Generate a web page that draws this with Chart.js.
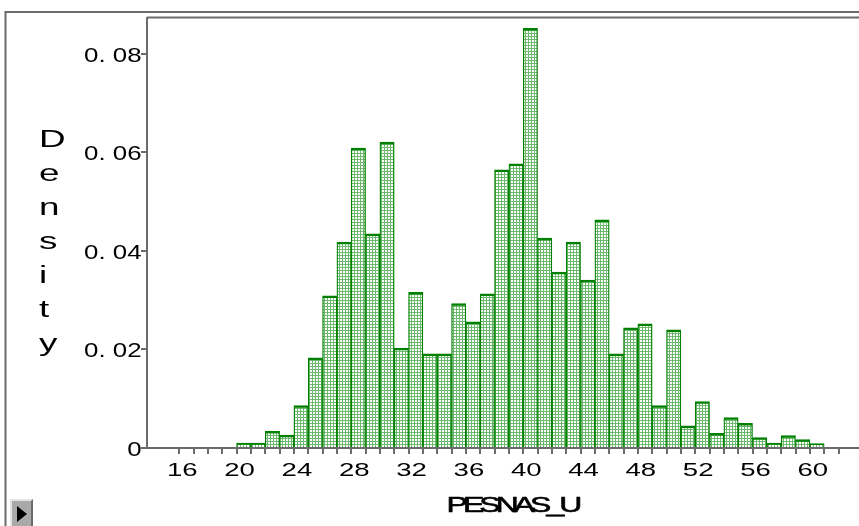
<!DOCTYPE html>
<html>
<head>
<meta charset="utf-8">
<title>PESNAS_U density histogram</title>
<script src="https://cdn.jsdelivr.net/npm/chart.js@4/dist/chart.umd.min.js"></script>
<style>
  html, body { margin: 0; padding: 0; background: #ffffff; }
  #wrap { position: relative; width: 859px; height: 526px; overflow: hidden; }
  #plot { position: absolute; left: 0; top: 0; }
  #play {
    position: absolute; left: 10px; top: 499px; width: 23px; height: 27px;
    background: #a9a9a9;
    border-top: 2px solid #e4e4e4; border-left: 2px solid #e4e4e4;
    border-right: 2px solid #6a6a6a; border-bottom: 0;
    box-sizing: border-box;
  }
  #play::after {
    content: ""; position: absolute; left: 5px; top: 5px;
    border-top: 8px solid transparent; border-bottom: 8px solid transparent;
    border-left: 10px solid #000000;
  }
</style>
</head>
<body>
<div id="wrap">
  <canvas id="plot" width="859" height="526"></canvas>
  <div id="play"></div>
</div>
<script>
// Histogram bins (width 1) of PESNAS_U and their densities
const binStart = [20, 21, 22, 23, 24, 25, 26, 27, 28, 29,
                  30, 31, 32, 33, 34, 35, 36, 37, 38, 39,
                  40, 41, 42, 43, 44, 45, 46, 47, 48, 49,
                  50, 51, 52, 53, 54, 55, 56, 57, 58, 59, 60];
const density = [0.0010, 0.0010, 0.0034, 0.0026, 0.0086, 0.0183, 0.0309, 0.0418, 0.0609, 0.0435,
                 0.0621, 0.0203, 0.0316, 0.0191, 0.0191, 0.0293, 0.0256, 0.0313, 0.0565, 0.0577,
                 0.0852, 0.0426, 0.0357, 0.0418, 0.0341, 0.0463, 0.0191, 0.0244, 0.0252, 0.0086,
                 0.0240, 0.0045, 0.0094, 0.0030, 0.0062, 0.0050, 0.0021, 0.0010, 0.0025, 0.0017, 0.0009];

// Axis ticks and labels
const xMinorTicks = [16, 17, 18, 19, 20, 21, 22, 23, 24, 25, 26, 27, 28, 29, 30, 31,
                     32, 33, 34, 35, 36, 37, 38, 39, 40, 41, 42, 43, 44, 45, 46, 47,
                     48, 49, 50, 51, 52, 53, 54, 55, 56, 57, 58, 59, 60, 61, 62];
const xLabelValues = [16, 20, 24, 28, 32, 36, 40, 44, 48, 52, 56, 60];
const xLabels = ['16', '20', '24', '28', '32', '36', '40', '44', '48', '52', '56', '60'];
const yTickValues = [0, 0.02, 0.04, 0.06, 0.08];
const yTickLabels = ['0', '0. 02', '0. 04', '0. 06', '0. 08'];
const xTitle = 'PESNAS_U';
const yTitle = 'Density';

const AXIS = '#6b6b6b';
const BAR_EDGE = '#008000';

// Fine green mesh used to fill the bars
function meshPattern() {
  const c = document.createElement('canvas');
  c.width = 3; c.height = 3;
  const g = c.getContext('2d');
  g.fillStyle = '#ffffff';
  g.fillRect(0, 0, 3, 3);
  g.fillStyle = '#6cb86c';
  g.fillRect(0, 0, 3, 1);
  g.fillRect(0, 0, 1, 3);
  return g.createPattern(c, 'repeat');
}

// Horizontally widened text, as the plot's labels appear
function wideText(ctx, text, x, y, sx, align, font, spacing, weight) {
  ctx.save();
  ctx.translate(x, y);
  ctx.scale(sx, 1);
  ctx.font = font;
  ctx.fillStyle = '#000000';
  ctx.textAlign = align;
  ctx.textBaseline = 'alphabetic';
  if (spacing !== undefined && 'letterSpacing' in ctx) ctx.letterSpacing = spacing;
  ctx.fillText(text, 0, 0);
  if (weight) {
    ctx.strokeStyle = '#000000';
    ctx.lineWidth = weight;
    ctx.strokeText(text, 0, 0);
  }
  ctx.restore();
}

const decorations = {
  id: 'decorations',
  afterDraw(chart) {
    const ctx = chart.ctx;
    const area = chart.chartArea;
    const xs = chart.scales.x;
    const ys = chart.scales.y;

    // window frame and plot top edge
    ctx.save();
    ctx.strokeStyle = AXIS;
    ctx.lineWidth = 2;
    ctx.beginPath();
    ctx.moveTo(5.5, 526);
    ctx.lineTo(5.5, 12);
    ctx.lineTo(859, 12);
    ctx.stroke();
    ctx.beginPath();
    ctx.moveTo(area.left, area.top - 0.5);
    ctx.lineTo(859, area.top - 0.5);
    ctx.stroke();
    ctx.restore();

    // x tick labels
    xLabelValues.forEach((v, i) => {
      wideText(ctx, xLabels[i], xs.getPixelForValue(v) + 3, 476, 1.45, 'center',
               '19px "Liberation Sans", Arial, sans-serif');
    });

    // y tick labels
    yTickValues.forEach((v, i) => {
      wideText(ctx, yTickLabels[i], 141.5, ys.getPixelForValue(v) + 8, 1.23, 'right',
               '21px "Liberation Sans", Arial, sans-serif');
    });

    // x axis title
    wideText(ctx, xTitle, 512, 511.5, 1.45, 'center',
             '22px "Liberation Sans", Arial, sans-serif', '-3.4px', 0.6);

    // y axis title, one letter per line
    yTitle.split('').forEach((ch, i) => {
      wideText(ctx, ch, 39, 146.7 + 34 * i, 1.6, 'left',
               '23px "Liberation Sans", Arial, sans-serif');
    });
  }
};

const ctx = document.getElementById('plot').getContext('2d');
new Chart(ctx, {
  type: 'bar',
  data: {
    datasets: [{
      label: 'Density',
      data: binStart.map((b, i) => ({ x: b + 0.5, y: density[i] })),
      backgroundColor: meshPattern(),
      borderColor: BAR_EDGE,
      borderWidth: { top: 2.5, left: 1.3, right: 1.3, bottom: 0 },
      borderSkipped: false,
      barPercentage: 1,
      categoryPercentage: 1,
      grouped: false
    }]
  },
  options: {
    responsive: false,
    animation: false,
    events: [],
    layout: { padding: { top: 18, left: 0, right: 0, bottom: 0 } },
    plugins: {
      legend: { display: false },
      tooltip: { enabled: false },
      title: { display: false }
    },
    scales: {
      x: {
        type: 'linear',
        min: 13.75,
        max: 63.43,
        offset: false,
        afterBuildTicks: (scale) => { scale.ticks = xMinorTicks.map(v => ({ value: v })); },
        afterFit: (scale) => { scale.height = 78; },
        grid: {
          offset: false,
          drawOnChartArea: false,
          drawTicks: true,
          tickLength: 6,
          color: AXIS,
          lineWidth: 2
        },
        border: { display: true, color: AXIS, width: 2 },
        ticks: { display: false }
      },
      y: {
        type: 'linear',
        min: 0,
        max: 0.0873,
        afterBuildTicks: (scale) => { scale.ticks = yTickValues.map(v => ({ value: v })); },
        afterFit: (scale) => { scale.width = 147; },
        grid: {
          drawOnChartArea: false,
          drawTicks: true,
          tickLength: 6,
          color: AXIS,
          lineWidth: 2
        },
        border: { display: true, color: AXIS, width: 2 },
        ticks: { display: false }
      }
    }
  },
  plugins: [decorations]
});
</script>
</body>
</html>
